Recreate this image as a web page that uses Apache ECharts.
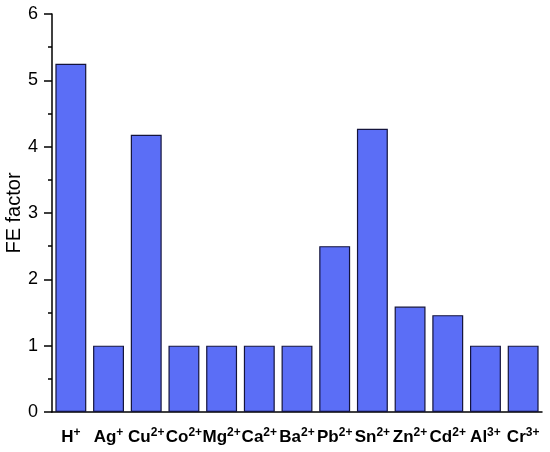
<!DOCTYPE html>
<html>
<head>
<meta charset="utf-8">
<script src="https://cdn.jsdelivr.net/npm/echarts@6/dist/echarts.min.js"></script>
<style>
  html, body { margin: 0; padding: 0; background: #fff; }
  #chart { width: 550px; height: 452px; }
</style>
</head>
<body>
<div id="chart"></div>
<script>
// ions and their charges (shown as superscripts)
const ions = ['H', 'Ag', 'Cu', 'Co', 'Mg', 'Ca', 'Ba', 'Pb', 'Sn', 'Zn', 'Cd', 'Al', 'Cr']
const charges = ['+', '+', '2+', '2+', '2+', '2+', '2+', '2+', '2+', '2+', '2+', '3+', '3+']
const feFactor = [5.25, 1, 4.18, 1, 1, 1, 1, 2.5, 4.27, 1.59, 1.46, 1, 1]
const yTicks = [0, 1, 2, 3, 4, 5, 6]

const categories = ions.map((n, i) => n + charges[i])
const font = 'Arial, "Liberation Sans", sans-serif'

const chart = echarts.init(document.getElementById('chart'))

chart.setOption({
  animation: false,
  grid: { left: 52, right: 8, top: 14, bottom: 40, outerBoundsMode: 'none', containLabel: false },
  xAxis: [{
    type: 'category',
    data: categories,
    axisLine: { lineStyle: { color: '#000', width: 1.5 } },
    axisTick: { alignWithLabel: true, length: 7, lineStyle: { color: '#000', width: 1.5 } },
    axisLabel: {
      margin: 15,
      interval: 0,
      formatter: (v, i) => `{b|${ions[i]}}{s|${charges[i]}}`,
      rich: {
        b: { fontSize: 17, fontWeight: 'bold', color: '#000', fontFamily: font },
        s: { fontSize: 12, fontWeight: 'bold', color: '#000', fontFamily: font, padding: [0, 0, 9, 0] }
      }
    }
  }, {
    type: 'category',
    data: categories,
    position: 'bottom',
    axisLine: { show: false },
    axisTick: { length: 4, lineStyle: { color: '#000', width: 1.5 } },
    axisLabel: { show: false }
  }],
  yAxis: {
    type: 'value',
    min: yTicks[0],
    max: yTicks[yTicks.length - 1],
    interval: 1,
    name: 'FE factor',
    nameLocation: 'middle',
    nameGap: 28,
    nameMoveOverlap: false,
    nameTextStyle: { fontSize: 20, color: '#000', fontFamily: font },
    splitLine: { show: false },
    axisLine: { show: true, lineStyle: { color: '#000', width: 1.5 } },
    axisTick: { show: true, length: 8, lineStyle: { color: '#000', width: 1.5 } },
    minorTick: { show: true, splitNumber: 2, length: 4, lineStyle: { color: '#000', width: 1.5 } },
    axisLabel: { fontSize: 18, color: '#000', fontFamily: font, margin: 14 }
  },
  series: [{
    type: 'bar',
    data: feFactor,
    barWidth: '82%',
    itemStyle: { color: '#5b6ef6', borderColor: '#14143c', borderWidth: 1.2 }
  }]
})
</script>
</body>
</html>
